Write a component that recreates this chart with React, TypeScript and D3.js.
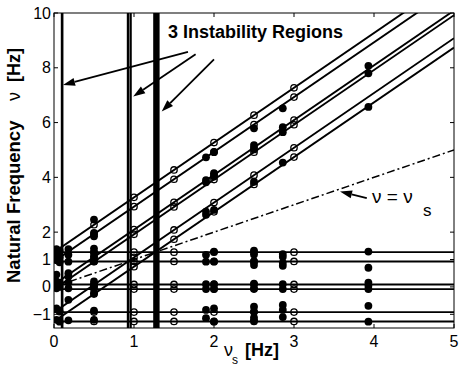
import React from "react";
import * as d3 from "d3";

const W = 463;
const H = 369;
const margin = { left: 54, right: 9, top: 13, bottom: 41 };

// flat modes (Hz) and the branches rising at 2*nu_s from them
const modeOffsets = [1.27, 0.93, 0.09, -0.08, -0.92, -1.26];
const branchSlope = 2;

const xTicks = [0, 1, 2, 3, 4, 5];
const yTicks = [-1, 0, 1, 2, 4, 6, 8, 10];

// the 3 instability regions, as [from, to] in nu_s
const instability = [
  [0.085, 0.118],
  [0.91, 0.94],
  [0.944, 0.972],
  [1.24, 1.32],
];

// theory points (open circles), per spin speed
const openSpeeds = [0.5, 1.0, 1.5, 2.0, 2.5, 3.0];
const open05 = [1.27, 0.93, 0.09, -0.08, -0.92, -1.26, 2.27, 1.93, 1.09, 0.92, 0.08, -0.26];
const open10 = [1.27, 0.93, 0.09, -0.08, -0.92, -1.26, 3.27, 2.93, 2.09, 1.92, 1.08, 0.74];
const open15 = [1.27, 0.93, 0.09, -0.08, -0.92, -1.26, 4.27, 3.93, 3.09, 2.92, 2.08, 1.74];
const open20 = [1.27, 0.93, 0.09, -0.08, -0.92, -1.26, 5.27, 4.93, 4.09, 3.92, 3.08, 2.74];
const open25 = [1.27, 0.93, 0.09, -0.08, -0.92, -1.26, 6.27, 5.93, 5.09, 4.92, 4.08, 3.74];
const open30 = [1.27, 0.93, 0.09, -0.08, -0.92, -1.26, 7.27, 6.93, 6.09, 5.92, 5.08, 4.74];
const openValues = [open05, open10, open15, open20, open25, open30];

// measured points (filled dots), per spin speed
const measSpeeds = [0.03, 0.07, 0.18, 0.5, 1.9, 2.0, 2.5, 2.86, 3.93];
const meas003 = [1.38, 1.2, 0.98, 0.45, 0.2, 0.05, -0.05, -0.78, -1.2];
const meas007 = [1.32, 1.08, 0.9, 0.15, 0.0, -0.9, -1.27];
const meas018 = [1.38, 1.17, 0.92, 0.5, 0.38, 0.16, -0.05, -0.47, -1.22];
const meas050 = [2.46, 1.97, 1.85, 1.4, 1.25, 1.1, 0.95, 0.2, 0.01, -0.23, -0.87, -1.2];
const meas190 = [4.73, 3.9, 3.82, 2.75, 2.63, 1.17, 0.92, 0.1, -0.08, -0.84, -1.14];
const meas200 = [4.92, 4.15, 4.03, 2.81, 1.29, 0.92, 0.1, -0.08, -0.78, -1.27];
const meas250 = [5.79, 5.18, 5.02, 3.84, 1.32, 1.18, 0.93, 0.8, 0.12, -0.06, -0.72, -0.9, -1.12, -1.22];
const meas286 = [6.52, 5.83, 5.65, 4.54, 1.2, 1.1, 0.88, 0.77, 0.1, -0.08, -0.66, -0.84, -1.1];
const meas393 = [8.07, 7.8, 6.57, 1.29, 0.7, 0.16, 0.04, -0.08, -0.69, -1.27];
const measValues = [meas003, meas007, meas018, meas050, meas190, meas200, meas250, meas286, meas393];

const FONT = "'Liberation Sans', Arial, Helvetica, sans-serif";

const x = d3.scaleLinear().domain([0, 5]).range([margin.left, W - margin.right]);
const y = d3.scaleLinear().domain([-1.5, 10]).range([H - margin.bottom, margin.top]);

const Arrow = ({ from, to }: { from: number[]; to: number[] }) => {
  const x1 = x(from[0]), y1 = y(from[1]);
  const x2 = x(to[0]), y2 = y(to[1]);
  const a = Math.atan2(y2 - y1, x2 - x1);
  const len = 12, hw = 4;
  const bx = x2 - len * Math.cos(a), by = y2 - len * Math.sin(a);
  const p = [
    [x2, y2],
    [bx + hw * Math.sin(a), by - hw * Math.cos(a)],
    [bx - hw * Math.sin(a), by + hw * Math.cos(a)],
  ];
  return (
    <g>
      <line x1={x1} y1={y1} x2={bx} y2={by} stroke="#000" strokeWidth={1.8} />
      <polygon points={p.map((d) => d.join(",")).join(" ")} fill="#000" />
    </g>
  );
};

export default function App() {
  const [x0, x1] = x.domain();
  const line = d3.line<number[]>().x((d) => x(d[0])).y((d) => y(d[1]));
  const top = margin.top, bottom = H - margin.bottom;
  const left = margin.left, right = W - margin.right;

  return (
    <svg
      width={W}
      height={H}
      style={{ position: "absolute", left: 0, top: 0, background: "#fff" }}
      fontFamily={FONT}
    >
      <defs>
        <clipPath id="plot">
          <rect x={left} y={top} width={right - left} height={bottom - top} />
        </clipPath>
      </defs>
      <rect width={W} height={H} fill="#fff" />

      <g clipPath="url(#plot)" fill="none" stroke="#000">
        {modeOffsets.map((c, i) => (
          <path key={"h" + i} d={line([[x0, c], [x1, c]])!} strokeWidth={1.9} />
        ))}
        {modeOffsets.map((c, i) => (
          <path
            key={"d" + i}
            d={line([[x0, c + branchSlope * x0], [x1, c + branchSlope * x1]])!}
            strokeWidth={1.9}
          />
        ))}
        <path d={line([[0, 0], [5, 5]])!} strokeWidth={1.5} strokeDasharray="8,3,2,3" />
        {instability.map((r, i) => (
          <rect
            key={"r" + i}
            x={x(r[0])}
            y={top}
            width={x(r[1]) - x(r[0])}
            height={bottom - top}
            fill="#000"
            stroke="none"
          />
        ))}
        {openSpeeds.map((s, i) =>
          openValues[i].map((v, j) => (
            <circle key={"o" + i + "-" + j} cx={x(s)} cy={y(v)} r={3.2} strokeWidth={1.3} />
          ))
        )}
        {measSpeeds.map((s, i) =>
          measValues[i].map((v, j) => (
            <circle key={"m" + i + "-" + j} cx={x(s)} cy={y(v)} r={3.9} fill="#000" stroke="none" />
          ))
        )}
      </g>

      {/* box and inward ticks */}
      <rect x={left} y={top} width={right - left} height={bottom - top} fill="none" stroke="#000" strokeWidth={1} />
      {xTicks.map((t) => (
        <g key={"xt" + t} stroke="#000">
          <line x1={x(t)} x2={x(t)} y1={bottom} y2={bottom - 4} />
          <line x1={x(t)} x2={x(t)} y1={top} y2={top + 4} />
        </g>
      ))}
      {yTicks.map((t) => (
        <g key={"yt" + t} stroke="#000">
          <line x1={left} x2={left + 4} y1={y(t)} y2={y(t)} />
          <line x1={right} x2={right - 4} y1={y(t)} y2={y(t)} />
        </g>
      ))}
      {xTicks.map((t) => (
        <text key={"xl" + t} x={x(t)} y={347} fontSize={16} textAnchor="middle">
          {t}
        </text>
      ))}
      {yTicks.map((t) => (
        <text key={"yl" + t} x={left - 3} y={y(t) + 5.5} fontSize={16} textAnchor="end">
          {t < 0 ? "\u2212" + Math.abs(t) : t}
        </text>
      ))}

      {/* axis labels */}
      <text x={224} y={356} fontSize={18}>ν</text>
      <text x={232} y={364} fontSize={12}>s</text>
      <text x={245} y={356} fontSize={18} fontWeight="bold">[Hz]</text>

      <text transform="translate(20,283) rotate(-90)" fontSize={18.5} fontWeight="bold">
        Natural Frequency
      </text>
      <text transform="translate(20,101) rotate(-90)" fontSize={18}>ν</text>
      <text transform="translate(20,82) rotate(-90)" fontSize={18} fontWeight="bold">[Hz]</text>

      {/* annotations */}
      <text x={x(1.425)} y={y(9.1)} fontSize={18} fontWeight="bold">
        3 Instability Regions
      </text>
      <Arrow from={[1.675, 8.58]} to={[0.1125, 7.37]} />
      <Arrow from={[1.77, 8.49]} to={[0.99, 6.95]} />
      <Arrow from={[2.0, 8.31]} to={[1.346, 6.4]} />

      <Arrow from={[3.91, 3.24]} to={[3.575, 3.48]} />
      <text x={x(3.975)} y={y(3.07)} fontSize={19}>ν = ν</text>
      <text x={423} y={216} fontSize={17}>s</text>
    </svg>
  );
}
